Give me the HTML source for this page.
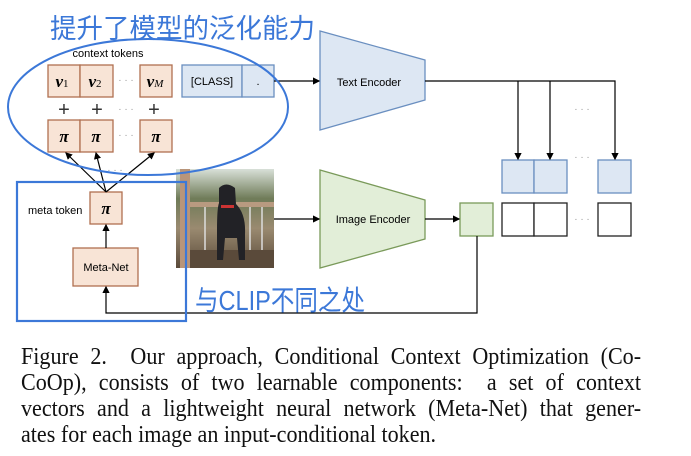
<!DOCTYPE html>
<html><head><meta charset="utf-8"><style>
html,body{margin:0;padding:0;background:#fff;}
body{width:691px;height:456px;overflow:hidden;position:relative;}
.cap{position:absolute;left:21px;width:674px;font-family:"Liberation Serif",serif;font-size:24px;color:#111;text-align:justify;text-align-last:justify;line-height:26px;white-space:nowrap;transform:scaleX(0.92);transform-origin:0 0;}
.cap.last{text-align-last:left;}
</style></head><body>
<svg width="691" height="340" style="position:absolute;left:0;top:0" font-family="Liberation Sans, DejaVu Sans, sans-serif">
<defs>
<marker id="a" markerWidth="6" markerHeight="6" refX="5" refY="3" orient="auto"><path d="M0,0 L6,3 L0,6z" fill="#000"/></marker>
<linearGradient id="bg" x1="0" y1="0" x2="0" y2="1"><stop offset="0" stop-color="#d8e0d8"/><stop offset="0.3" stop-color="#6f7b58"/><stop offset="0.6" stop-color="#9a8a70"/><stop offset="1" stop-color="#5a4a3a"/></linearGradient>
</defs>
<g stroke="#b07050" stroke-width="1.3" fill="#f8e4d6">
<rect x="48" y="65" width="32" height="32"/><rect x="80" y="65" width="33" height="32"/><rect x="140" y="65" width="32" height="32"/>
<rect x="48" y="120" width="32" height="32"/><rect x="80" y="120" width="33" height="32"/><rect x="140" y="120" width="32" height="32"/>
<rect x="90" y="192" width="32" height="32"/><rect x="73" y="248" width="65" height="38"/>
</g>
<g font-family="Liberation Serif, serif" font-weight="bold" font-style="italic" font-size="17" text-anchor="middle">
<text x="62" y="87">v<tspan font-size="11" font-weight="normal" font-style="normal">1</tspan></text>
<text x="95" y="87">v<tspan font-size="11" font-weight="normal" font-style="normal">2</tspan></text>
<text x="155" y="87">v<tspan font-size="11" font-weight="normal">M</tspan></text>
<text x="64" y="142">π</text><text x="96" y="142">π</text><text x="156" y="142">π</text><text x="106" y="214">π</text>
</g>
<g font-size="20" text-anchor="middle" fill="#333"><text x="64" y="116">+</text><text x="97" y="116">+</text><text x="154" y="116">+</text></g>
<g fill="#999" font-size="10" text-anchor="middle"><text x="126" y="83">· · ·</text><text x="126" y="112">· · ·</text><text x="126" y="138">· · ·</text><text x="115" y="173">· · ·</text>
<text x="582" y="112">· · ·</text><text x="582" y="160">· · ·</text><text x="582" y="222">· · ·</text></g>
<text x="108" y="57" font-size="11" text-anchor="middle">context tokens</text>
<text x="28" y="214" font-size="11">meta token</text>
<text x="106" y="271" font-size="11" text-anchor="middle">Meta-Net</text>
<g stroke="#6a8fc0" stroke-width="1.3" fill="#dde7f3">
<rect x="182" y="65" width="60" height="32"/><rect x="242" y="65" width="32" height="32"/>
<polygon points="320,31 425,60 425,100 320,130"/>
<rect x="502" y="160" width="32" height="33"/><rect x="534" y="160" width="33" height="33"/><rect x="598" y="160" width="33" height="33"/>
</g>
<text x="212" y="85" font-size="11" text-anchor="middle">[CLASS]</text>
<text x="258" y="85" font-size="11" text-anchor="middle">.</text>
<text x="369" y="86" font-size="11" text-anchor="middle">Text Encoder</text>
<polygon points="320,170 425,200 425,239 320,268" fill="#e2eed8" stroke="#7a9a5a" stroke-width="1.3"/>
<text x="373" y="223" font-size="11" text-anchor="middle">Image Encoder</text>
<rect x="460" y="203" width="33" height="33" fill="#e2eed8" stroke="#7a9a5a" stroke-width="1.3"/>
<g stroke="#222" stroke-width="1.3" fill="#fff"><rect x="502" y="203" width="32" height="33"/><rect x="534" y="203" width="33" height="33"/><rect x="598" y="203" width="33" height="33"/></g>
<g stroke="#000" stroke-width="1.2" fill="none">
<line x1="274" y1="81" x2="319" y2="81" marker-end="url(#a)"/>
<polyline points="425,81 615,81 615,159" marker-end="url(#a)"/>
<line x1="518" y1="81" x2="518" y2="159" marker-end="url(#a)"/>
<line x1="550" y1="81" x2="550" y2="159" marker-end="url(#a)"/>
<line x1="274" y1="219" x2="319" y2="219" marker-end="url(#a)"/>
<line x1="425" y1="219" x2="459" y2="219" marker-end="url(#a)"/>
<polyline points="477,236 477,313 106,313 106,287" marker-end="url(#a)"/>
<line x1="106" y1="248" x2="106" y2="225" marker-end="url(#a)"/>
<line x1="106" y1="192" x2="66" y2="153" marker-end="url(#a)"/>
<line x1="106" y1="192" x2="96" y2="153" marker-end="url(#a)"/>
<line x1="106" y1="192" x2="154" y2="153" marker-end="url(#a)"/>
</g>
<rect x="176" y="169" width="98" height="99" fill="url(#bg)"/>
<rect x="180" y="169" width="10" height="99" fill="#b8957a"/>
<rect x="190" y="202" width="84" height="5" fill="#b89a80"/>
<g stroke="#ddd" stroke-width="1.5"><line x1="205" y1="207" x2="205" y2="250"/><line x1="250" y1="207" x2="250" y2="250"/><line x1="262" y1="207" x2="262" y2="250"/></g>
<rect x="190" y="250" width="84" height="18" fill="#5a4a3a"/>
<path d="M219,188 q7,-7 16,0 l1,16 q10,10 9,30 l0,26 l-6,0 l-2,-22 l-12,0 l-2,22 l-6,0 l0,-30 q0,-22 2,-27z" fill="#222226"/>
<rect x="221" y="205" width="13" height="3" fill="#c33"/>
<ellipse cx="148" cy="107" rx="140" ry="68" fill="none" stroke="#3c78d8" stroke-width="2"/>
<rect x="17" y="182" width="169" height="139" fill="none" stroke="#3c78d8" stroke-width="2.2"/>
<text x="50" y="38" font-family="Noto Sans CJK SC, WenQuanYi Zen Hei, sans-serif" font-size="27" fill="#3c78d8" textLength="265" lengthAdjust="spacingAndGlyphs">提升了模型的泛化能力</text>
<text x="195" y="310" font-family="Liberation Sans, Noto Sans CJK SC, sans-serif" font-size="28" fill="#3c78d8" textLength="170" lengthAdjust="spacingAndGlyphs">与CLIP不同之处</text>
</svg>
<div class="cap" style="top:344px">Figure 2.&nbsp; Our approach, Conditional Context Optimization (Co-</div>
<div class="cap" style="top:370px">CoOp), consists of two learnable components:&nbsp; a set of context</div>
<div class="cap" style="top:396px">vectors and a lightweight neural network (Meta-Net) that gener-</div>
<div class="cap last" style="top:422px">ates for each image an input-conditional token.</div>
</body></html>
